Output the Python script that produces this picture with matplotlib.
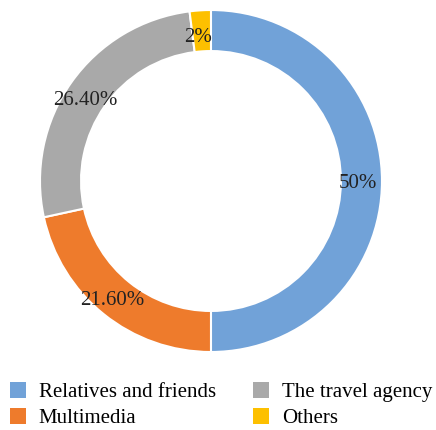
import matplotlib.pyplot as plt
from matplotlib.patches import Patch

plt.rcParams['font.family'] = ['Liberation Serif', 'DejaVu Serif']

categories = ['Relatives and friends', 'Multimedia', 'The travel agency', 'Others']
shares = [50, 21.6, 26.4, 2]
labels = ['50%', '21.60%', '26.40%', '2%']
colors = ['#71A2D8', '#EE7B2C', '#A9A9A9', '#FDC000']
# small nudges of the value labels off the ring centre line
nudges = [(0.0, -0.015), (-0.035, -0.03), (-0.03, -0.025), (-0.02, -0.02)]

fig = plt.figure(figsize=(4.36, 4.30), dpi=100)
ax = fig.add_axes([0.0917, 0.1814, 0.7844, 0.7953])

wedges, texts = ax.pie(shares, colors=colors, startangle=90, counterclock=False,
                       radius=1.0, labels=labels, labeldistance=0.86,
                       wedgeprops=dict(width=0.24, edgecolor='white', linewidth=1.5),
                       textprops=dict(fontsize=15, color='#222222'))
for t, (dx, dy) in zip(texts, nudges):
    t.set_ha('center')
    t.set_va('center')
    x, y = t.get_position()
    t.set_position((x + dx, y + dy))
ax.set_xlim(-1, 1)
ax.set_ylim(-1, 1)
ax.set_aspect('equal')
ax.axis('off')

# legend in two columns: relatives/multimedia left, travel/others right
handles = [Patch(facecolor=c, edgecolor='none') for c in colors]
fig.legend(handles, categories, ncol=2, loc='lower left',
           bbox_to_anchor=(-0.01, -0.03), frameon=False, fontsize=15,
           handlelength=0.75, handleheight=0.75, handletextpad=0.62,
           columnspacing=1.8, labelspacing=0.3, borderaxespad=0.3)

fig.savefig('out.png', dpi=100)
